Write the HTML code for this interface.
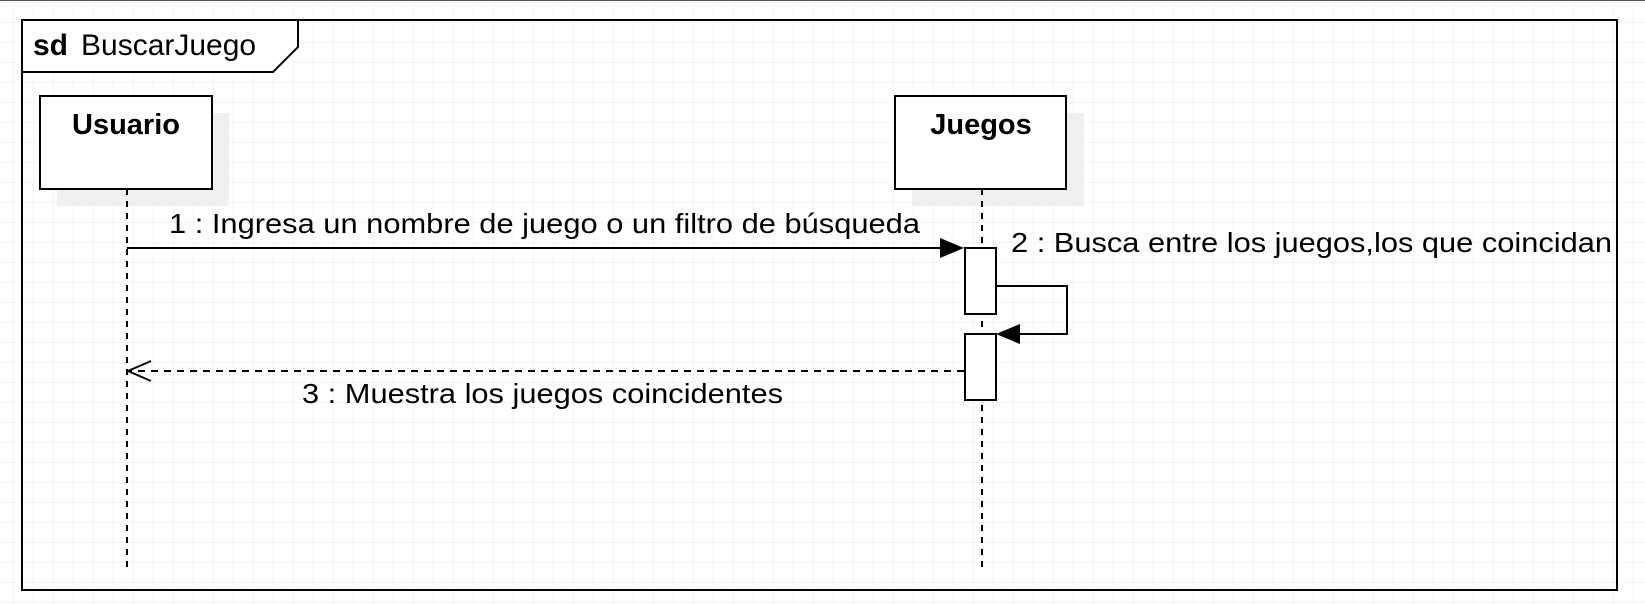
<!DOCTYPE html>
<html><head><meta charset="utf-8"><style>
html,body{margin:0;padding:0;background:#fff;}
svg{display:block;font-family:"Liberation Sans",Arial,sans-serif;}
</style></head><body>
<svg width="1645" height="605" viewBox="0 0 1645 605" xmlns="http://www.w3.org/2000/svg">
<defs>
<pattern id="g" x="13" y="2" width="20" height="20" patternUnits="userSpaceOnUse">
<path d="M0 0H20M0 0V20" stroke="#ebebeb" stroke-width="1" fill="none"/>
</pattern>
</defs>
<rect width="1645" height="605" fill="#fff"/>
<rect width="1645" height="605" fill="url(#g)"/>
<line x1="0" y1="0.5" x2="1645" y2="0.5" stroke="#555" stroke-width="1"/>
<rect x="22" y="20" width="1595" height="570" fill="none" stroke="#000" stroke-width="2"/>
<path d="M22 20H298V47L273 72H22Z" fill="#fff" stroke="#000" stroke-width="2"/>
<text x="33" y="55" font-size="30" font-weight="bold">sd</text>
<text x="81" y="55" font-size="30">BuscarJuego</text>
<rect x="57" y="113" width="172" height="93" fill="#efefef"/>
<rect x="912" y="113" width="172" height="93" fill="#efefef"/>
<line x1="127" y1="189" x2="127" y2="570" stroke="#000" stroke-width="2" stroke-dasharray="6,6"/>
<line x1="982" y1="189" x2="982" y2="570" stroke="#000" stroke-width="2" stroke-dasharray="6,6"/>
<rect x="40" y="96" width="172" height="93" fill="#fff" stroke="#000" stroke-width="2"/>
<text x="126" y="134" font-size="29" font-weight="bold" text-anchor="middle">Usuario</text>
<rect x="895" y="96" width="171" height="93" fill="#fff" stroke="#000" stroke-width="2"/>
<text x="981" y="134" font-size="29" font-weight="bold" text-anchor="middle">Juegos</text>
<line x1="127" y1="248" x2="945" y2="248" stroke="#000" stroke-width="2"/>
<path d="M940 238L964 248L940 258Z" fill="#000"/>
<text x="169" y="233" font-size="28" textLength="751" lengthAdjust="spacingAndGlyphs">1 : Ingresa un nombre de juego o un filtro de búsqueda</text>
<rect x="965" y="248" width="31" height="66" fill="#fff" stroke="#000" stroke-width="2"/>
<rect x="965" y="334" width="31" height="66" fill="#fff" stroke="#000" stroke-width="2"/>
<path d="M996 286H1067V334H1015" fill="none" stroke="#000" stroke-width="2"/>
<path d="M996 334L1020 324L1020 344Z" fill="#000"/>
<text x="1011" y="252" font-size="28" textLength="601" lengthAdjust="spacingAndGlyphs">2 : Busca entre los juegos,los que coincidan</text>
<line x1="964" y1="371" x2="129" y2="371" stroke="#000" stroke-width="2" stroke-dasharray="7,6"/>
<path d="M151 361L128 371L151 381" fill="none" stroke="#000" stroke-width="2"/>
<text x="302" y="403" font-size="28" textLength="481" lengthAdjust="spacingAndGlyphs">3 : Muestra los juegos coincidentes</text>
</svg>
</body></html>
